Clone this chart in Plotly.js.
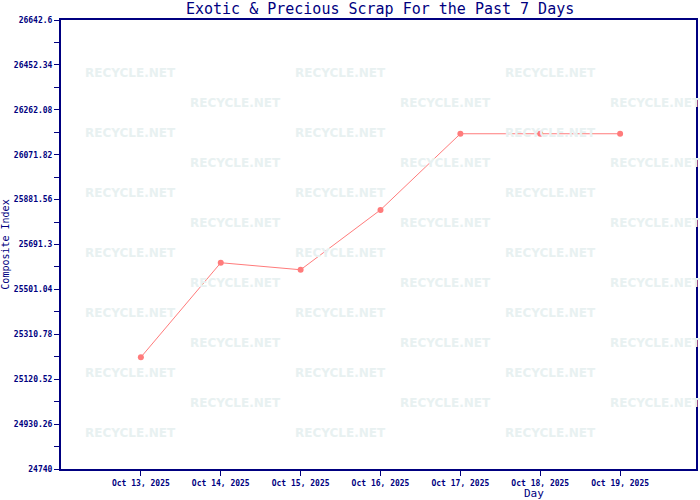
<!DOCTYPE html>
<html>
<head>
<meta charset="utf-8">
<script src="https://cdn.plot.ly/plotly-3.0.1.min.js"></script>
<style>html,body{margin:0;padding:0;background:#fff;}#chart{width:700px;height:500px;}</style>
</head>
<body>
<div id="chart"></div>
<script>
const days = ["Oct 13, 2025","Oct 14, 2025","Oct 15, 2025","Oct 16, 2025","Oct 17, 2025","Oct 18, 2025","Oct 19, 2025"];
const indexValues = [25213.5, 25614.0, 25584.3, 25838.0, 26160.6, 26160.6, 26160.6];
const yTickVals = [24740, 24930.26, 25120.52, 25310.78, 25501.04, 25691.3, 25881.56, 26071.82, 26262.08, 26452.34, 26642.6];
const yTickText = ["24740","24930.26","25120.52","25310.78","25501.04","25691.3","25881.56","26071.82","26262.08","26452.34","26642.6"];

const navy = "#000080";
const mono = "DejaVu Sans Mono, monospace";

// watermark grid (decoration)
const annotations = [];
const L = 61, R = 696, T = 20, B = 469;
for (let r = 0; r < 13; r++) {
  const py = 73 + r * 30;
  const xs = (r % 2 === 0) ? [130, 340, 550] : [235, 445, 655];
  xs.forEach(px => {
    annotations.push({
      xref: "paper", yref: "paper",
      x: (px - L) / (R - L), y: (B - py) / (B - T),
      text: "RECYCLE.NET", showarrow: false,
      font: {family: "DejaVu Sans, sans-serif", size: 12, color: "#e8f1f1", weight: "bold"},
      xanchor: "center", yanchor: "middle"
    });
  });
}
annotations.push({
  xref: "paper", yref: "paper", x: (534 - L) / (R - L), y: (B - 493) / (B - T),
  text: "Day", showarrow: false, xanchor: "center", yanchor: "middle",
  font: {family: mono, size: 11, color: navy}
});

const trace = {
  x: days, y: indexValues, type: "scatter", mode: "lines+markers",
  line: {color: "#ff7b7b", width: 1},
  marker: {color: "#ff7b7b", size: 6, symbol: "circle"},
  hoverinfo: "x+y"
};

const layout = {
  width: 700, height: 500,
  margin: {l: 61, r: 4, t: 20, b: 31},
  paper_bgcolor: "#ffffff", plot_bgcolor: "#ffffff",
  showlegend: false,
  title: {text: "Exotic &amp; Precious Scrap For the Past 7 Days", x: 0.543, xanchor: "center", y: 0.983, yanchor: "middle",
          font: {family: mono, size: 15, color: navy}},
  xaxis: {
    type: "category", range: [-1, 6.95],
    showgrid: false, zeroline: false,
    showline: true, linecolor: navy, linewidth: 2, mirror: true,
    ticks: "outside", ticklen: 5, tickcolor: navy, tickwidth: 1,
    tickfont: {family: mono, size: 8, color: navy, weight: "bold"}
  },
  yaxis: {
    range: [24740, 26642.6],
    tickvals: yTickVals, ticktext: yTickText,
    showgrid: false, zeroline: false,
    showline: true, linecolor: navy, linewidth: 2, mirror: true,
    ticks: "outside", ticklen: 5, tickcolor: navy, tickwidth: 1,
    minor: {tickvals: yTickVals.slice(0, -1).map((v, i) => (v + yTickVals[i + 1]) / 2), ticks: "outside", ticklen: 5, tickcolor: navy, tickwidth: 1, showgrid: false},
    tickfont: {family: mono, size: 8, color: navy, weight: "bold"},
    title: {text: "Composite Index", font: {family: mono, size: 10, color: navy}, standoff: 6}
  },
  annotations: annotations
};

Plotly.newPlot("chart", [trace], layout, {displayModeBar: false, staticPlot: true});
</script>
</body>
</html>
